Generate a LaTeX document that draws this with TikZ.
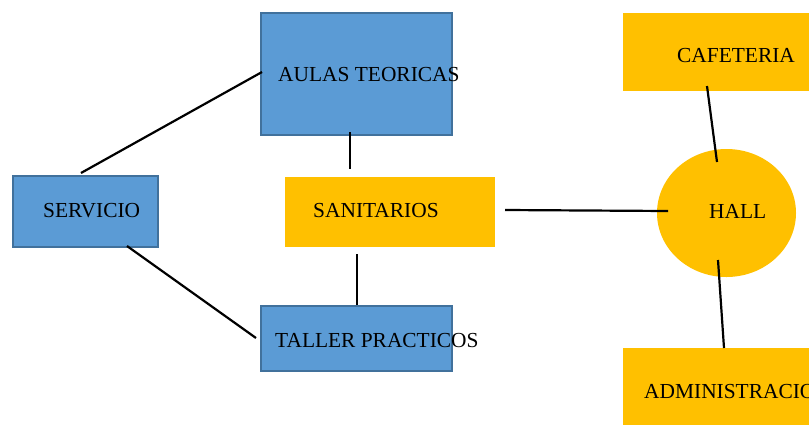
\documentclass[tikz,border=0pt]{standalone}
\usepackage{fontspec}
\setmainfont{Liberation Serif}
\usetikzlibrary{shapes.geometric}
\definecolor{boxblue}{HTML}{5B9BD5}
\definecolor{edgeblue}{HTML}{41719C}
\definecolor{boxgold}{HTML}{FFC000}
\begin{document}
\begin{tikzpicture}[x=1pt,y=-1pt,
  bluebox/.style={draw=edgeblue,line width=1.6pt,fill=boxblue,anchor=north west,inner sep=0pt},
  goldbox/.style={fill=boxgold,anchor=north west,inner sep=0pt},
  lbl/.style={anchor=base west,inner sep=0pt,font=\fontsize{21.4}{24}\selectfont},
  link/.style={line width=2.2pt,black}]
\useasboundingbox (0,0) rectangle (809,424);
\clip (0,0) rectangle (809,424);
% boxes
\node[bluebox,minimum width=191pt,minimum height=122pt] (aulas) at (260,12) {};
\node[bluebox,minimum width=145pt,minimum height=71pt] (servicio) at (12,175) {};
\node[goldbox,minimum width=210pt,minimum height=70pt] (sanitarios) at (285,177) {};
\node[bluebox,minimum width=191pt,minimum height=65pt] (taller) at (260,305) {};
\node[goldbox,minimum width=200pt,minimum height=78pt] (cafeteria) at (623,13) {};
\node[fill=boxgold,ellipse,minimum width=139pt,minimum height=128pt,inner sep=0pt] (hall) at (726.5,213) {};
\node[goldbox,minimum width=200pt,minimum height=90pt] (admin) at (623,348) {};
% labels
\node[lbl] (taulas) at (278,81) {AULAS TEORICAS};
\node[lbl] (tservicio) at (43,217) {SERVICIO};
\node[lbl] (tsanitarios) at (313,217) {SANITARIOS};
\node[lbl] (ttaller) at (275,347) {TALLER PRACTICOS};
\node[lbl] (tcafeteria) at (677,62) {CAFETERIA};
\node[lbl] (thall) at (709,218) {HALL};
\node[lbl] (tadmin) at (644,398) {ADMINISTRACION};
% connector end points
\coordinate (s1) at (81,173);
\coordinate (a1) at (262,72);
\coordinate (s2) at (127,246);
\coordinate (t1) at (256,338);
\coordinate (a2) at (350,132);
\coordinate (n1) at (350,169);
\coordinate (n2) at (357,254);
\coordinate (t2) at (357,305);
\coordinate (n3) at (505,210);
\coordinate (h1) at (668,211);
\coordinate (c1) at (707,86);
\coordinate (h2) at (717,162);
\coordinate (h3) at (718,260);
\coordinate (d1) at (724,348);
% connectors
\draw[link] (s1) -- (a1);
\draw[link] (s2) -- (t1);
\draw[link] (a2) -- (n1);
\draw[link] (n2) -- (t2);
\draw[link] (n3) -- (h1);
\draw[link] (c1) -- (h2);
\draw[link] (h3) -- (d1);
\end{tikzpicture}
\end{document}
